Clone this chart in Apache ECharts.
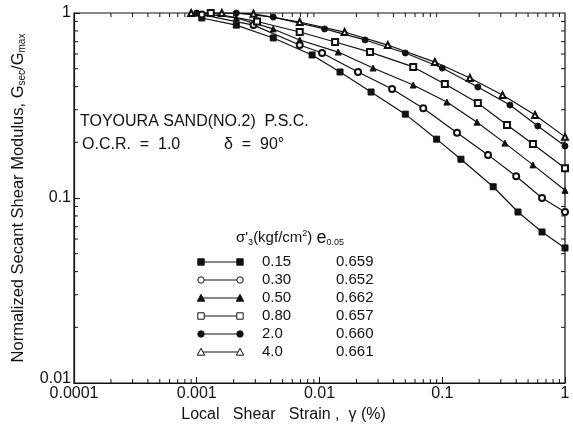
<!DOCTYPE html>
<html><head><meta charset="utf-8">
<script src="https://cdn.jsdelivr.net/npm/echarts@6/dist/echarts.min.js"></script>
<style>html,body{margin:0;padding:0;background:#fff}#c{width:573px;height:431px}</style>
</head><body><div id="c"></div>
<script>
// ---- data ----
const xTickLabels = ['0.0001', '0.001', '0.01', '0.1', '1'];
const yTickLabels = ['0.01', '0.1', '1'];

const legendSigma = ['0.15', '0.30', '0.50', '0.80', '2.0', '4.0'];
const legendVoid  = ['0.659', '0.652', '0.662', '0.657', '0.660', '0.661'];

const strain015 = [0.0011, 0.0021, 0.0042, 0.0087, 0.0147, 0.0263, 0.05, 0.09, 0.142, 0.26, 0.414, 0.65, 1.0];
const g015      = [0.94, 0.86, 0.733, 0.593, 0.48, 0.374, 0.284, 0.208, 0.162, 0.115, 0.084, 0.0655, 0.0537];

const strain030 = [0.0011, 0.0029, 0.0069, 0.0105, 0.0206, 0.039, 0.07, 0.132, 0.236, 0.4, 0.65, 1.0];
const g030      = [0.98, 0.86, 0.671, 0.608, 0.48, 0.388, 0.306, 0.225, 0.171, 0.131, 0.1, 0.084];

const strain050 = [0.001, 0.0021, 0.0042, 0.0069, 0.0142, 0.0273, 0.058, 0.109, 0.192, 0.324, 0.548, 1.0];
const g050      = [1.0, 0.94, 0.82, 0.715, 0.615, 0.504, 0.408, 0.33, 0.257, 0.198, 0.151, 0.11];

const strain080 = [0.0013, 0.0031, 0.0069, 0.0134, 0.0258, 0.058, 0.105, 0.195, 0.337, 0.548, 1.0];
const g080      = [1.0, 0.9, 0.789, 0.697, 0.615, 0.511, 0.413, 0.326, 0.248, 0.196, 0.145];

const strain20  = [0.001, 0.0021, 0.0042, 0.011, 0.0235, 0.05, 0.1, 0.195, 0.356, 0.6, 1.0];
const g20       = [1.0, 1.0, 0.95, 0.82, 0.715, 0.608, 0.504, 0.398, 0.318, 0.245, 0.191];

const strain40  = [0.0009, 0.0016, 0.0029, 0.0069, 0.016, 0.036, 0.087, 0.168, 0.31, 0.57, 1.0];
const g40       = [1.0, 1.0, 0.99, 0.894, 0.789, 0.671, 0.543, 0.445, 0.36, 0.281, 0.214];

// ---- styles ----
const FONT = 'Liberation Sans, Arial, sans-serif';
const INK = '#111';
const symbols = ['rect', 'emptyCircle', 'triangle', 'emptyRect', 'circle', 'emptyTriangle'];
const seriesX = [strain015, strain030, strain050, strain080, strain20, strain40];
const seriesY = [g015, g030, g050, g080, g20, g40];

function zip(a, b) { return a.map((v, i) => [v, b[i]]); }

const chart = echarts.init(document.getElementById('c'), null, {renderer: 'canvas'});

const lineSeries = seriesX.map((xs, k) => ({
  type: 'line',
  name: legendSigma[k],
  data: zip(xs, seriesY[k]),
  symbol: symbols[k],
  symbolSize: 6,
  showAllSymbol: true,
  lineStyle: {color: INK, width: 1.2},
  itemStyle: {color: INK, borderColor: INK, borderWidth: 1},
  emphasis: {disabled: true},
  animation: false,
  z: 3
}));

// minor tick values (2..9 x 10^k)
const minorX = [], minorY = [];
for (let e = -4; e < 0; e++) for (let m = 2; m <= 9; m++) minorX.push(m * Math.pow(10, e));
for (let e = -2; e < 0; e++) for (let m = 2; m <= 9; m++) minorY.push(m * Math.pow(10, e));

const tickSeries = {
  type: 'custom',
  silent: true,
  animation: false,
  data: minorX.map(v => [v, 0]).concat(minorY.map(v => [v, 1])),
  encode: {x: -1, y: -1},
  renderItem: function (params, api) {
    const v = api.value(0);
    const isX = params.dataIndex < minorX.length;
    const L = 4;
    const st = {stroke: INK, lineWidth: 1};
    if (isX) {
      const b = api.coord([v, 0.01]);
      const t = api.coord([v, 1]);
      return {type: 'group', children: [
        {type: 'line', shape: {x1: b[0], y1: b[1], x2: b[0], y2: b[1] - L}, style: st},
        {type: 'line', shape: {x1: t[0], y1: t[1], x2: t[0], y2: t[1] + L}, style: st}
      ]};
    } else {
      const l = api.coord([0.0001, v]);
      const r = api.coord([1, v]);
      return {type: 'group', children: [
        {type: 'line', shape: {x1: l[0], y1: l[1], x2: l[0] + L, y2: l[1]}, style: st},
        {type: 'line', shape: {x1: r[0], y1: r[1], x2: r[0] - L, y2: r[1]}, style: st}
      ]};
    }
  }
};

// legend graphic
const legendRowY = [262, 280, 298, 316, 334, 352];
function markerShape(sym, cx, cy) {
  const s = 3.2;
  const filled = !sym.startsWith('empty');
  const style = {fill: filled ? INK : '#fff', stroke: INK, lineWidth: 1};
  const base = sym.replace('empty', '').toLowerCase();
  if (base === 'rect') return {type: 'rect', shape: {x: cx - s, y: cy - s, width: 2 * s, height: 2 * s}, style};
  if (base === 'circle') return {type: 'circle', shape: {cx, cy, r: s}, style};
  return {type: 'polygon', shape: {points: [[cx, cy - s - 0.5], [cx + s + 0.5, cy + s], [cx - s - 0.5, cy + s]]}, style};
}
const legendChildren = [];
legendChildren.push({
  type: 'text', x: 236, y: 238,
  style: {
    text: "σ'{sub|3}(kgf/cm{sup|2}) {e|e}{sub|0.05}",
    font: '15px ' + FONT, fill: INK, verticalAlign: 'middle',
    rich: {
      sub: {fontSize: 9, fontFamily: FONT, verticalAlign: 'bottom', padding: [7, 0, 0, 0], fill: INK},
      sup: {fontSize: 9, fontFamily: FONT, verticalAlign: 'top', padding: [0, 0, 7, 0], fill: INK},
      e: {fontSize: 18, fontFamily: FONT, fill: INK}
    }
  }
});
legendSigma.forEach((s, k) => {
  const y = legendRowY[k];
  legendChildren.push({type: 'line', shape: {x1: 201, y1: y, x2: 240, y2: y}, style: {stroke: INK, lineWidth: 1.2}});
  legendChildren.push(markerShape(symbols[k], 201, y));
  legendChildren.push(markerShape(symbols[k], 240, y));
  legendChildren.push({type: 'text', x: 262, y: y, style: {text: s, font: '15px ' + FONT, fill: INK, verticalAlign: 'middle'}});
  legendChildren.push({type: 'text', x: 336, y: y, style: {text: legendVoid[k], font: '15px ' + FONT, fill: INK, verticalAlign: 'middle'}});
});

const option = {
  animation: false,
  backgroundColor: '#fff',
  grid: {left: 74, right: 8, top: 13, bottom: 48, show: true, borderColor: INK, borderWidth: 1.2, backgroundColor: 'transparent'},
  xAxis: {
    type: 'log', logBase: 10, min: 0.0001, max: 1,
    name: 'Local   Shear   Strain ,  γ (%)', nameLocation: 'middle', nameGap: 24,
    nameTextStyle: {fontFamily: FONT, fontSize: 16, color: INK, padding: [0, 72, 0, 0]},
    axisLine: {show: true, lineStyle: {color: INK, width: 1.2}},
    axisTick: {show: true, inside: true, length: 6, lineStyle: {color: INK}},
    splitLine: {show: false},
    axisLabel: {
      fontFamily: FONT, fontSize: 16, color: INK, margin: 3,
      formatter: function (v) { const i = Math.round(Math.log10(v)) + 4; return xTickLabels[i] || ''; }
    }
  },
  yAxis: {
    type: 'log', logBase: 10, min: 0.01, max: 1,
    name: 'Normalized Secant Shear Modulus, G{sub|sec}/G{sub|max}',
    nameLocation: 'middle', nameGap: 47, nameRotate: 90,
    nameTextStyle: {fontFamily: FONT, fontSize: 16.5, color: INK,
      rich: {sub: {fontFamily: FONT, fontSize: 10, color: INK, verticalAlign: 'bottom', padding: [7, 0, 0, 0]}}},
    axisLine: {show: true, lineStyle: {color: INK, width: 1.2}},
    axisTick: {show: true, inside: true, length: 6, lineStyle: {color: INK}},
    splitLine: {show: false},
    axisLabel: {
      fontFamily: FONT, fontSize: 16, color: INK, margin: 3,
      formatter: function (v) {
        const i = Math.round(Math.log10(v)) + 2;
        const t = yTickLabels[i] || '';
        return i === 0 ? '{lo|' + t + '}' : t;
      },
      rich: {lo: {fontFamily: FONT, fontSize: 16, color: INK, padding: [0, 0, 8, 0]}}
    }
  },
  graphic: [
    {type: 'text', x: 80, y: 122, style: {text: 'TOYOURA SAND(NO.2)  P.S.C.', font: '16px ' + FONT, fill: INK, verticalAlign: 'middle'}},
    {type: 'text', x: 82, y: 145, style: {text: 'O.C.R.  =  1.0', font: '16px ' + FONT, fill: INK, verticalAlign: 'middle'}},
    {type: 'text', x: 224, y: 145, style: {text: 'δ  =  90°', font: '16px ' + FONT, fill: INK, verticalAlign: 'middle'}},
    {type: 'group', children: legendChildren}
  ],
  series: lineSeries.concat([tickSeries])
};
chart.setOption(option);
</script>
</body></html>
